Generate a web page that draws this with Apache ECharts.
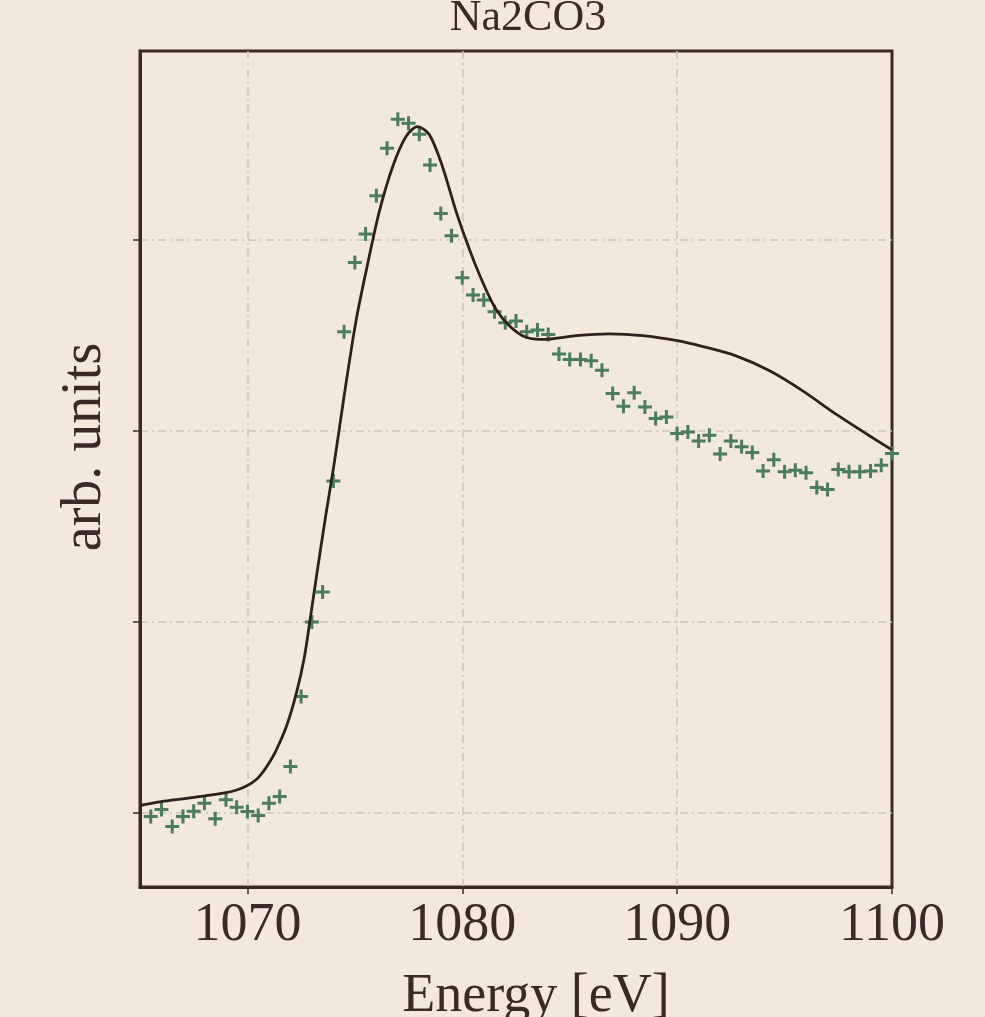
<!DOCTYPE html>
<html>
<head>
<meta charset="utf-8">
<script src="https://cdn.jsdelivr.net/npm/echarts@6/dist/echarts.min.js"></script>
<style>
html,body{margin:0;padding:0;background:#f2e9dc;}
#chart{width:985px;height:1017px;}
</style>
</head>
<body>
<div id="chart"></div>
<script>
// Measured points (green crosses)
const dataEnergy = [1065.5,1066.0,1066.5,1067.0,1067.5,1068.0,1068.5,1069.0,1069.5,1070.0,
  1070.5,1071.0,1071.5,1072.0,1072.5,1073.0,1073.5,1074.0,1074.5,1075.0,
  1075.5,1076.0,1076.5,1077.0,1077.5,1078.0,1078.5,1079.0,1079.5,1080.0,
  1080.5,1081.0,1081.5,1082.0,1082.5,1083.0,1083.5,1084.0,1084.5,1085.0,
  1085.5,1086.0,1086.5,1087.0,1087.5,1088.0,1088.5,1089.0,1089.5,1090.0,
  1090.5,1091.0,1091.5,1092.0,1092.5,1093.0,1093.5,1094.0,1094.5,1095.0,
  1095.5,1096.0,1096.5,1097.0,1097.5,1098.0,1098.5,1099.0,1099.5,1100.0];
const dataValue = [-0.020,0.016,-0.073,-0.020,0.007,0.049,-0.033,0.067,0.028,0.005,
  -0.016,0.049,0.084,0.241,0.608,0.998,1.155,1.737,2.519,2.882,
  3.031,3.232,3.480,3.632,3.611,3.554,3.393,3.139,3.022,2.802,
  2.711,2.685,2.624,2.566,2.576,2.519,2.528,2.505,2.402,2.374,
  2.374,2.367,2.318,2.195,2.129,2.199,2.125,2.064,2.073,1.986,
  1.994,1.947,1.977,1.879,1.947,1.916,1.886,1.790,1.849,1.785,
  1.793,1.781,1.703,1.692,1.797,1.785,1.785,1.790,1.820,1.881];

// Fitted curve (black line)
const fitEnergy = [1065.0,1066.0,1067.0,1068.0,1069.0,1069.5,1070.0,1070.4,1070.71,1071.0,
  1071.33,1071.80,1072.27,1072.65,1072.96,1073.27,1073.66,1074.05,1074.51,1075.06,
  1075.60,1076.14,1076.76,1077.38,1077.92,1078.47,1079.08,1079.71,1080.37,1080.84,
  1081.41,1081.80,1082.19,1082.60,1082.96,1083.40,1083.89,1084.60,1085.29,1086.84,
  1088.39,1089.94,1091.16,1092.71,1094.26,1095.81,1097.36,1098.91,1100.0];
const fitValue = [0.037,0.057,0.072,0.087,0.104,0.118,0.142,0.172,0.211,0.258,
  0.325,0.447,0.622,0.814,1.045,1.280,1.567,1.838,2.190,2.580,
  2.877,3.150,3.384,3.542,3.594,3.551,3.384,3.150,2.940,2.807,
  2.668,2.600,2.550,2.512,2.490,2.480,2.479,2.488,2.499,2.508,
  2.499,2.474,2.443,2.394,2.317,2.212,2.090,1.977,1.900];

const xTicks = [1070,1080,1090,1100];
const yTicks = [0,1,2,3];
const titleText = 'Na2CO3';
const xLabel = 'Energy [eV]';
const yLabel = 'arb. units';

const FONT = '"Liberation Serif", "DejaVu Serif", serif';
const INK = '#3a2a26';
const GRIDC = '#cac5bd';
const plus = 'path://M-1.5,-7 H1.5 V-1.5 H7 V1.5 H1.5 V7 H-1.5 V1.5 H-7 V-1.5 H-1.5 Z';

const chart = echarts.init(document.getElementById('chart'), null, {renderer:'canvas'});
chart.setOption({
  backgroundColor: '#f2e9dc',
  animation: false,
  grid: {left:140, right:93, top:51, bottom:130, show:true, borderColor:INK, borderWidth:3, backgroundColor:'transparent'},
  xAxis: {
    type:'value', min:1065, max:1100,
    axisLine:{show:true, onZero:false, lineStyle:{color:INK, width:3}},
    axisTick:{show:true, customValues:xTicks, length:7, lineStyle:{color:INK, width:1.5}},
    axisLabel:{customValues:xTicks, margin:12, fontFamily:FONT, fontSize:54, color:INK,
      formatter: v => String(v)},
    splitLine:{show:true, showMinLine:true, showMaxLine:false,
      lineStyle:{color:GRIDC, width:1.5, type:[8,4,2,4]}}
  },
  yAxis: {
    type:'value', min:-0.39, max:3.99,
    axisLine:{show:true, onZero:false, lineStyle:{color:INK, width:3}},
    axisTick:{show:true, customValues:yTicks, length:7, lineStyle:{color:INK, width:1.5}},
    axisLabel:{show:false, customValues:yTicks},
    splitLine:{show:true, showMinLine:true, showMaxLine:true,
      lineStyle:{color:GRIDC, width:1.5, type:[8,4,2,4]}}
  },
  graphic: [
    {type:'text', x:528, y:18, style:{text:titleText, font:'44px '+FONT, fill:INK, align:'center', verticalAlign:'middle'}},
    {type:'text', x:536, y:997, style:{text:xLabel, font:'54px '+FONT, fill:INK, align:'center', verticalAlign:'middle'}},
    {type:'text', x:85, y:447, rotation:Math.PI/2, style:{text:yLabel, font:'56px '+FONT, fill:INK, align:'center', verticalAlign:'middle'}}
  ],
  series: [
    {
      type:'scatter', name:'data',
      data: dataEnergy.map((e,i)=>[e, dataValue[i]]),
      symbol: plus, symbolSize: 14,
      itemStyle:{color:'#4b7d5a', opacity:1},
      z:2
    },
    {
      type:'line', name:'fit',
      data: fitEnergy.map((e,i)=>[e, fitValue[i]]),
      showSymbol:false, smooth:0.3,
      lineStyle:{color:'#2d201d', width:2.8},
      z:3
    }
  ]
});
</script>
</body>
</html>
